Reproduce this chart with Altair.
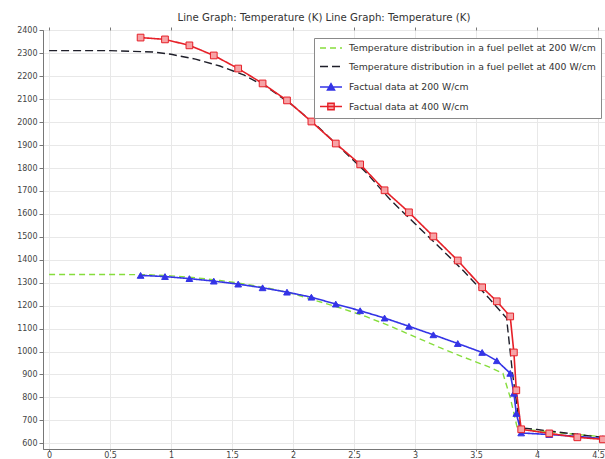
import altair as alt
import pandas as pd

# Series names (also used as legend labels)
S_MODEL_200 = "Temperature distribution in a fuel pellet at 200 W/cm"
S_MODEL_400 = "Temperature distribution in a fuel pellet at 400 W/cm"
S_DATA_200 = "Factual data at 200 W/cm"
S_DATA_400 = "Factual data at 400 W/cm"
SERIES = [S_MODEL_200, S_MODEL_400, S_DATA_200, S_DATA_400]

# Computed temperature profiles, radius in mm, temperature in K
r_model_200 = [0.0, 0.5, 0.8, 1.0, 1.2, 1.4, 1.6, 1.8, 2.0, 2.2, 2.4, 2.6, 2.8,
               3.0, 3.2, 3.4, 3.6, 3.72, 3.78, 3.84, 4.0, 4.2, 4.4, 4.55]
t_model_200 = [1336, 1336, 1335, 1330, 1322, 1310, 1295, 1276, 1252, 1220, 1188,
               1152, 1110, 1064, 1018, 975, 934, 905, 800, 662, 655, 645, 635, 628]

r_model_400 = [0.0, 0.5, 0.85, 1.0, 1.2, 1.4, 1.6, 1.8, 2.0, 2.2, 2.4, 2.6, 2.8,
               3.0, 3.2, 3.4, 3.6, 3.75, 3.8, 3.86, 4.0, 4.2, 4.4, 4.55]
t_model_400 = [2312, 2312, 2306, 2296, 2275, 2245, 2205, 2148, 2072, 1982, 1882,
               1780, 1660, 1557, 1455, 1350, 1236, 1146, 900, 668, 660, 647, 634, 625]

# Measured data points (shared radii)
r_data = [0.75, 0.95, 1.15, 1.35, 1.55, 1.75, 1.95, 2.15, 2.35, 2.55, 2.75, 2.95,
          3.15, 3.35, 3.55, 3.67, 3.78, 3.81, 3.83, 3.87, 4.10, 4.33, 4.54]
t_data_200 = [1332, 1327, 1318, 1307, 1294, 1278, 1259, 1237, 1207, 1178, 1146, 1110,
              1073, 1035, 996, 960, 905, 818, 730, 645, 638, 630, 620]
t_data_400 = [2369, 2361, 2335, 2291, 2234, 2169, 2095, 2003, 1907, 1816, 1703, 1607,
              1502, 1397, 1280, 1219, 1153, 996, 831, 661, 643, 626, 617]

COLORS = ["#86dd3c", "#1f1f2a", "#3434e6", "#e62028"]
FILLS = ["#3434e6", "#f6a3a6"]
DASHES = [[6, 4], [8, 4], [1, 0], [1, 0]]

model = pd.concat([
    pd.DataFrame({"r": r_model_200, "T": t_model_200, "series": S_MODEL_200}),
    pd.DataFrame({"r": r_model_400, "T": t_model_400, "series": S_MODEL_400}),
])
data = pd.concat([
    pd.DataFrame({"r": r_data, "T": t_data_200, "series": S_DATA_200}),
    pd.DataFrame({"r": r_data, "T": t_data_400, "series": S_DATA_400}),
])

X_TICKS = [0, 0.5, 1, 1.5, 2, 2.5, 3, 3.5, 4, 4.5]
Y_TICKS = list(range(600, 2401, 100))

x_scale = alt.Scale(domain=[-0.05, 4.557], nice=False, zero=False)
x_bottom = alt.X("r:Q", scale=x_scale,
                 axis=alt.Axis(values=X_TICKS, format="~g", title=None))
# tick marks along the top edge of the frame
x_top = alt.X("r:Q", scale=x_scale,
              axis=alt.Axis(orient="top", values=X_TICKS, labels=False, grid=False,
                            domain=False, tickSize=3, title=None))
x_plain = alt.X("r:Q", scale=x_scale, axis=None)
y_enc = alt.Y("T:Q", scale=alt.Scale(domain=[575, 2402], nice=False, zero=False),
              axis=alt.Axis(values=Y_TICKS, format="d", title=None))

# Legend symbols: a short line, with the marker drawn in its middle for the data series
LINE_PATH = "M-1,0H4.5"
TRI_PATH = "M-1,0H4.5M0.85,0.75L1.75,-0.85L2.65,0.75Z"
SQR_PATH = "M-1,0H4.5M0.95,-0.8H2.55V0.8H0.95Z"

shape_expr = (f"datum.value == '{S_DATA_200}' ? '{TRI_PATH}' : "
              f"datum.value == '{S_DATA_400}' ? '{SQR_PATH}' : '{LINE_PATH}'")
fill_expr = (f"datum.value == '{S_DATA_200}' ? '{FILLS[0]}' : "
             f"datum.value == '{S_DATA_400}' ? '{FILLS[1]}' : 'transparent'")

legend = alt.Legend(
    title=None, orient="none", legendX=271, legendY=8, direction="vertical",
    strokeColor="#8a8a8a", fillColor="white", padding=5, cornerRadius=0,
    labelFont="DejaVu Sans", labelFontSize=9.3, labelColor="#333333",
    labelLimit=500, labelOffset=20, rowPadding=7.5,
    symbolSize=64, symbolStrokeWidth=1.4,
    symbolType={"expr": shape_expr},
    symbolFillColor={"expr": fill_expr},
)

stroke_enc = alt.Stroke("series:N", scale=alt.Scale(domain=SERIES, range=COLORS), legend=legend)
dash_enc = alt.StrokeDash("series:N", scale=alt.Scale(domain=SERIES, range=DASHES), legend=legend)

model_lines = alt.Chart(model).mark_line(strokeWidth=1.4).encode(
    x=x_bottom, y=y_enc, stroke=stroke_enc, strokeDash=dash_enc, order="r:Q")

data_lines = alt.Chart(data).mark_line(strokeWidth=1.6).encode(
    x=x_top, y=y_enc, stroke=stroke_enc, strokeDash=dash_enc, order="r:Q")

data_points = alt.Chart(data).mark_point(filled=True, strokeWidth=1, opacity=1).encode(
    x=x_plain, y=y_enc, stroke=stroke_enc,
    fill=alt.Fill("series:N", scale=alt.Scale(domain=[S_DATA_200, S_DATA_400], range=FILLS),
                  legend=None),
    shape=alt.Shape("series:N", scale=alt.Scale(domain=[S_DATA_200, S_DATA_400],
                                                range=["triangle-up", "square"]), legend=None),
    size=alt.value(45),
)

chart = alt.layer(model_lines, data_lines, data_points).resolve_axis(x="independent").properties(
    width=562, height=419,
    autosize=alt.AutoSizeParams(type="none"),
    padding={"left": 43, "top": 30, "right": 0, "bottom": 10},
    title=alt.TitleParams("Line Graph: Temperature (K)  Line Graph: Temperature (K)",
                          anchor="middle", offset=3, fontSize=10.2,
                          font="DejaVu Sans", fontWeight="normal", color="#333333"),
).configure_view(stroke="#9a9a9a", strokeWidth=1).configure_axis(
    labelFont="DejaVu Sans", labelFontSize=8, labelColor="#444444",
    domainColor="#777777", tickColor="#777777", tickSize=4, labelPadding=2,
    gridColor="#e8e8e8", gridWidth=1,
).configure_axisBottom(labelPadding=0, tickSize=2)

chart.save("out.html", embed_options={"renderer": "svg", "actions": False})
